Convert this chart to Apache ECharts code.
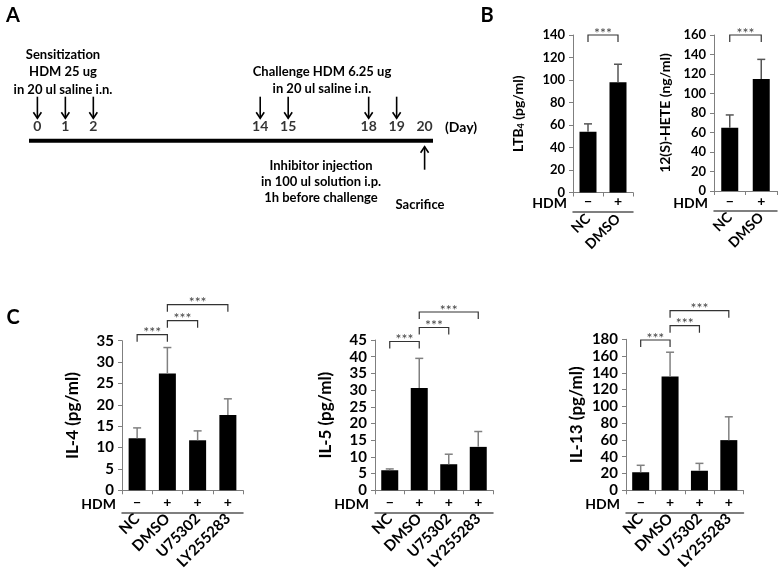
<!DOCTYPE html>
<html><head><meta charset="utf-8">
<script src="https://cdn.jsdelivr.net/npm/echarts@6/dist/echarts.min.js"></script>
<style>html,body{margin:0;padding:0;background:#fff}#c{width:779px;height:572px}</style>
</head><body><div id="c"></div>
<script>
const FONT = 'Lato';
// ---- Panel A: timeline ----
const timelineDays = [0, 1, 2, 14, 15, 18, 19, 20];
const hdmDays = [0, 1, 2, 14, 15, 18, 19];
const sacrificeDays = [20];
const sensitizationText = ['Sensitization', 'HDM 25 ug', 'in 20 ul saline i.n.'];
const challengeText = ['Challenge HDM 6.25 ug', 'in 20 ul saline i.n.'];
const inhibitorText = ['Inhibitor injection', 'in 100 ul solution i.p.', '1h before challenge'];

// ---- Panel B ----
const catB = ['NC', 'DMSO'];
const hdmB = ['\u2212', '+'];
const ltb4Mean = [54, 98];
const ltb4Err = [7, 16];
const heteMean = [65, 115];
const heteErr = [13, 20];
const pairsB = [[0, 1]];

// ---- Panel C ----
const catC = ['NC', 'DMSO', 'U75302', 'LY255283'];
const hdmC = ['\u2212', '+', '+', '+'];
const il4Mean = [12.2, 27.3, 11.7, 17.6];
const il4Err = [2.4, 6.1, 2.2, 3.8];
const il5Mean = [6.0, 30.6, 7.8, 13.0];
const il5Err = [0.4, 8.9, 3.0, 4.6];
const il13Mean = [21.5, 135.8, 23.3, 59.8];
const il13Err = [8.3, 28.8, 8.8, 27.8];
const pairsC = [[0, 1], [1, 2], [1, 3]];

const chart = echarts.init(document.getElementById('c'));
const grids = [], xAxes = [], yAxes = [], series = [];

// timeline grid
grids.push({left: 29, top: 60, width: 404, height: 80.7});
xAxes.push({
  gridIndex: 0, type: 'value', min: -0.3, max: 20.3,
  breaks: [{start: 2.6, end: 13.4, gap: '33%'}, {start: 15.5, end: 17.5, gap: '13%'}],
  breakArea: {show: false},
  axisLine: {show: false},
  axisTick: {show: false}, axisLabel: {show: false}, splitLine: {show: false}
});
yAxes.push({gridIndex: 0, type: 'value', min: 0, max: 1, show: false});

series.push({
  type: 'custom', xAxisIndex: 0, yAxisIndex: 0, clip: false, silent: true, data: [[0, 0]],
  renderItem: (p, api) => {
    const cs = p.coordSys;
    return {type: 'group', children: [
      {type: 'rect', shape: {x: cs.x, y: cs.y + cs.height - 2, width: cs.width, height: 4}, style: {fill: '#000'}},
      {type: 'text', style: {text: '(Day)', x: cs.x + cs.width + 12, y: cs.y + cs.height - 13, align: 'left', verticalAlign: 'middle',
        fontFamily: FONT, fontWeight: 'bold', fontSize: 14, fill: '#000'}}
    ]};
  }
});
series.push({
  type: 'scatter', xAxisIndex: 0, yAxisIndex: 0, clip: false, silent: true,
  data: timelineDays.map(d => [d, 0]), symbolSize: 1, itemStyle: {color: 'transparent'},
  label: {show: true, position: 'top', distance: 7, formatter: p => String(p.value[0]),
    fontFamily: FONT, fontWeight: 'bold', fontSize: 14, color: '#000'}
});
function arrow(x, tailY, tipY) {
  const s = tipY > tailY ? 1 : -1;
  return {type: 'group', children: [
    {type: 'line', shape: {x1: x, y1: tailY, x2: x, y2: tipY}, style: {stroke: '#000', lineWidth: 1.6}},
    {type: 'polyline', shape: {points: [[x - 4, tipY - 6 * s], [x, tipY], [x + 4, tipY - 6 * s]]}, style: {stroke: '#000', lineWidth: 1.6, fill: null}}
  ]};
}
series.push({
  type: 'custom', xAxisIndex: 0, yAxisIndex: 0, clip: false, silent: true,
  data: hdmDays.map(d => [d, 0]),
  renderItem: (p, api) => { const c = api.coord([api.value(0), 0]); return arrow(c[0], c[1] - 44, c[1] - 22.5); }
});
series.push({
  type: 'custom', xAxisIndex: 0, yAxisIndex: 0, clip: false, silent: true,
  data: sacrificeDays.map(d => [d, 0]),
  renderItem: (p, api) => { const c = api.coord([api.value(0), 0]); return arrow(c[0], c[1] + 29, c[1] + 6); }
});

// bar panels
const panels = [
  {left: 573, top: 35, width: 60, height: 157.5, cats: catB, hdm: hdmB, mean: ltb4Mean, err: ltb4Err, max: 140, step: 20,
   name: 'LTB{s|4} (pg/ml)', nameGap: 47, tickFs: 13, nameFs: 14, catFs: 14, hdmOffset: 19, catMargin: 24, pairs: pairsB, levels: [0], errColor: '#555'},
  {left: 714, top: 35, width: 63, height: 156, cats: catB, hdm: hdmB, mean: heteMean, err: heteErr, max: 160, step: 20,
   name: '12(S)-HETE (ng/ml)', nameGap: 42, tickFs: 13, nameFs: 14, catFs: 14, hdmOffset: 20, catMargin: 24, pairs: pairsB, levels: [0], errColor: '#555'},
  {left: 122, top: 340.7, width: 121, height: 155, cats: catC, hdm: hdmC, mean: il4Mean, err: il4Err, max: 35, step: 5,
   name: 'IL-4 (pg/ml)', nameGap: 41, tickFs: 15, nameFs: 17, catFs: 15, hdmOffset: 22, catMargin: 26, pairs: pairsC, levels: [-6, -20, -36], errColor: '#808080'},
  {left: 375, top: 340, width: 118, height: 155.7, cats: catC, hdm: hdmC, mean: il5Mean, err: il5Err, max: 45, step: 5,
   name: 'IL-5 (pg/ml)', nameGap: 41, tickFs: 15, nameFs: 17, catFs: 15, hdmOffset: 22, catMargin: 26, pairs: pairsC, levels: [1.5, -12.5, -28], errColor: '#808080'},
  {left: 626, top: 339.3, width: 117.5, height: 155.7, cats: catC, hdm: hdmC, mean: il13Mean, err: il13Err, max: 180, step: 20,
   name: 'IL-13 (pg/ml)', nameGap: 41, tickFs: 15, nameFs: 17, catFs: 15, hdmOffset: 22, catMargin: 26, pairs: pairsC, levels: [0.7, -13.6, -28.6], errColor: '#808080'}
];

panels.forEach((c, k) => {
  const gi = k + 1;
  grids.push({left: c.left, top: c.top, width: c.width, height: c.height});
  const xi = xAxes.length;
  xAxes.push({
    gridIndex: gi, type: 'category', data: c.cats,
    axisLine: {lineStyle: {color: '#7f7f7f', width: 1}},
    axisTick: {show: true, length: 4, lineStyle: {color: '#7f7f7f'}},
    axisLabel: {rotate: 45, margin: c.catMargin, interval: 0, fontFamily: FONT, fontWeight: 'bold', fontSize: c.catFs, color: '#000'}
  });
  xAxes.push({
    gridIndex: gi, type: 'category', data: c.cats, position: 'bottom', offset: c.hdmOffset,
    axisLine: {lineStyle: {color: '#555', width: 1.5}},
    axisTick: {show: false},
    axisLabel: {inside: true, margin: 3, interval: 0, formatter: (v, i) => c.hdm[i],
      fontFamily: FONT, fontWeight: 'bold', fontSize: 14, color: '#000'},
    name: 'HDM', nameLocation: 'start', nameGap: 6, nameMoveOverlap: false,
    nameTextStyle: {fontFamily: FONT, fontWeight: 'bold', fontSize: 14, color: '#000', verticalAlign: 'bottom', padding: [0, 0, 1, 0]}
  });
  const yi = yAxes.length;
  yAxes.push({
    gridIndex: gi, type: 'value', min: 0, max: c.max, interval: c.step,
    axisLine: {show: true, lineStyle: {color: '#7f7f7f', width: 1}},
    axisTick: {show: true, length: 4, lineStyle: {color: '#7f7f7f'}},
    splitLine: {show: false},
    axisLabel: {margin: 8, fontFamily: FONT, fontWeight: 'bold', fontSize: c.tickFs, color: '#000'},
    name: c.name, nameLocation: 'middle', nameGap: c.nameGap, nameRotate: 90, nameMoveOverlap: false,
    nameTextStyle: {fontFamily: FONT, fontWeight: 'bold', fontSize: c.nameFs, color: '#000',
      rich: {s: {fontFamily: FONT, fontWeight: 'bold', fontSize: 9, color: '#000', verticalAlign: 'bottom', padding: [6, 0, 0, 0]}}}
  });
  series.push({
    type: 'bar', xAxisIndex: xi, yAxisIndex: yi, data: c.mean, barWidth: 17,
    itemStyle: {color: '#000'}, silent: true
  });
  series.push({
    type: 'custom', xAxisIndex: xi, yAxisIndex: yi, clip: false, silent: true, z: 3,
    data: c.mean.map((m, i) => [i, m, c.err[i]]),
    renderItem: (p, api) => {
      const i = api.value(0), m = api.value(1), e = api.value(2);
      const b = api.coord([i, m]), t = api.coord([i, m + e]);
      const st = {stroke: c.errColor, lineWidth: 1.5};
      return {type: 'group', children: [
        {type: 'line', shape: {x1: b[0], y1: b[1], x2: t[0], y2: t[1]}, style: st},
        {type: 'line', shape: {x1: t[0] - 4, y1: t[1], x2: t[0] + 4, y2: t[1]}, style: st}
      ]};
    }
  });
  series.push({
    type: 'custom', xAxisIndex: xi, yAxisIndex: yi, clip: false, silent: true,
    data: c.pairs.map(pr => [pr[0], pr[1]]),
    renderItem: (p, api) => {
      const x1 = api.coord([api.value(0), 0])[0], x2 = api.coord([api.value(1), 0])[0];
      const y = p.coordSys.y + c.levels[p.dataIndex];
      return {type: 'group', children: [
        {type: 'polyline', shape: {points: [[x1, y + 7], [x1, y], [x2, y], [x2, y + 7]]}, style: {stroke: '#333', lineWidth: 1.2, fill: null}},
        {type: 'text', style: {text: '***', x: (x1 + x2) / 2, y: y + 5, align: 'center', verticalAlign: 'bottom',
          fontFamily: FONT, fontSize: 14, fill: '#444'}}
      ]};
    }
  });
});

const txt = (text, x, y, size, align) => ({type: 'text', x: x, y: y, style: {text: text, align: align || 'center', verticalAlign: 'middle',
  fontFamily: FONT, fontWeight: 'bold', fontSize: size, fill: '#000'}});
const graphic = [
  txt('A', 13, 16, 20), txt('B', 487, 16, 20), txt('C', 13, 318, 20)
];
sensitizationText.forEach((t, i) => graphic.push(txt(t, 63, 54.5 + i * 17.5, 13)));
challengeText.forEach((t, i) => graphic.push(txt(t, 322, 71.8 + i * 17.5, 13)));
inhibitorText.forEach((t, i) => graphic.push(txt(t, 321, 166 + i * 16, 13)));
graphic.push(txt('Sacrifice', 420, 205, 13));

chart.setOption({
  animation: false,
  backgroundColor: '#fff',
  grid: grids, xAxis: xAxes, yAxis: yAxes, series: series, graphic: graphic
});
</script></body></html>
